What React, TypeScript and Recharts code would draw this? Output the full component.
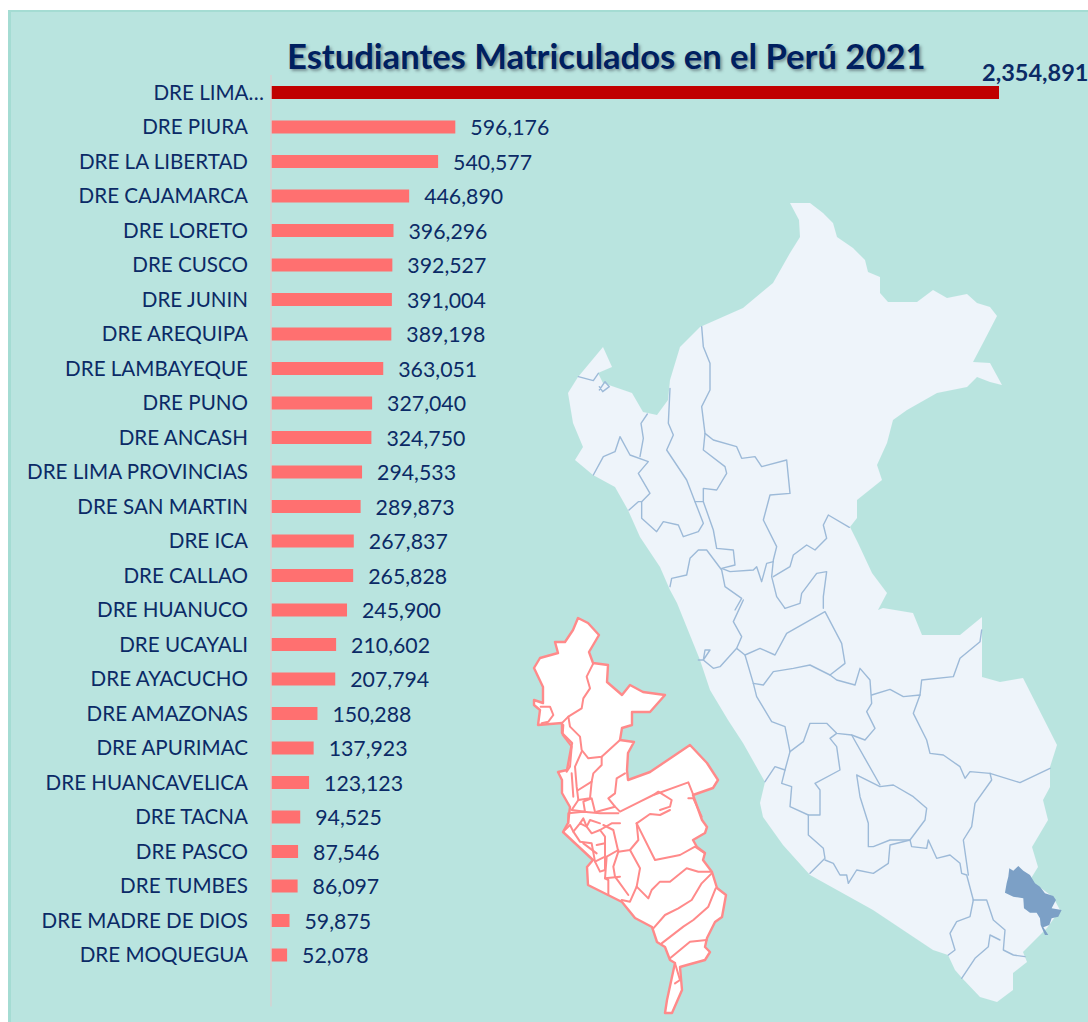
import React from 'react';
import { BarChart, Bar, XAxis, YAxis, Cell, LabelList } from 'recharts';

const categories = ['DRE LIMA…','DRE PIURA','DRE LA LIBERTAD','DRE CAJAMARCA','DRE LORETO','DRE CUSCO','DRE JUNIN','DRE AREQUIPA','DRE LAMBAYEQUE','DRE PUNO','DRE ANCASH','DRE LIMA PROVINCIAS','DRE SAN MARTIN','DRE ICA','DRE CALLAO','DRE HUANUCO','DRE UCAYALI','DRE AYACUCHO','DRE AMAZONAS','DRE APURIMAC','DRE HUANCAVELICA','DRE TACNA','DRE PASCO','DRE TUMBES','DRE MADRE DE DIOS','DRE MOQUEGUA',''];
const values: (number|null)[] = [2354891,596176,540577,446890,396296,392527,391004,389198,363051,327040,324750,294533,289873,267837,265828,245900,210602,207794,150288,137923,123123,94525,87546,86097,59875,52078,null];
const data = categories.map((name, i) => ({ name, value: values[i] }));

const NAVY = '#0b2a66';
const FONT = 'Lato, Carlito, sans-serif';

// decorative map outlines (page pixels)
const peruOutline = '790,203 810,203 823,213 833,223 837,237 853,248 865,260 868,272 880,277 880,293 888,302 917,302 933,290 947,298 967,294 977,303 990,307 997,316 983,343 973,362 990,363 1002,385 990,382 977,377 967,387 937,393 907,410 893,420 887,443 877,465 882,480 857,500 857,518 850,527 858,543 872,573 887,593 878,610 883,608 913,613 922,635 960,635 982,617 982,677 1000,682 1023,678 1057,745 1050,767 1050,787 1043,800 1048,820 1032,847 1038,867 1030,880 1053,897 1060,910 1047,928 1023,952 1027,962 1013,973 1013,990 997,1002 980,997 962,978 955,970 948,955 933,950 873,910 837,890 810,875 783,845 763,817 760,803 765,782 743,743 728,720 710,690 700,660 677,603 670,590 660,567 640,537 628,510 615,487 593,475 575,460 583,447 573,423 568,393 578,377 603,347 612,367 598,373 603,383 632,393 643,412 657,415 668,400 670,380 680,347 700,327 743,308 773,283 790,253 800,237 799,220';
const peruNorth = ['425,410 430,470 450,520 450,600 425,650 435,730 460,750 530,770 545,805 585,800 605,830 680,810 690,910 630,915 610,990 650,1070 640,1110 635,1160 650,1220 675,1255','435,730 430,780 495,830 500,850 470,900 430,895 430,935 460,1020 470,1075 520,1080 525,1125 485,1135 510,1145 580,1140 590,1130 605,1175 620,1120 640,1115','330,595 325,700 340,735 320,780 380,870 405,935 430,1000 415,1025 370,1040 355,1005 310,995 290,1025 245,985 245,935 270,910 235,850 265,815 210,795 180,740 165,785 130,800 100,855','262,672 243,700 250,745 240,800','405,935 430,935','207,960 235,935 245,935','330,1190 335,1165 380,1155 390,1105 415,1080 440,1080 485,1140 495,1190 545,1225 525,1260','640,1160 690,1130 700,1095 740,1065 765,1080 800,1045 790,1005 805,975 868,1012','675,1255 720,1240 725,1210 770,1150 800,1145 790,1220 790,1255','55,560 100,572 115,550','118,600 135,575 148,590 128,605 118,590'];
const peruSouth = ['250,0 220,65 245,110 230,145 180,200 160,205 130,180 135,150 150,150 130,180 115,180','230,145 255,165 300,145 345,165 380,100 495,35 545,130 555,190 510,225','255,165 280,250 290,290 335,365 375,380 390,455 375,510 345,500 315,545','280,250 310,255 340,215 400,205 450,195 510,225 530,240 585,255 600,205 630,240 635,310 620,335 645,385 615,420 575,405 530,400 500,370 450,370 430,425 390,455','635,285 690,268 730,290 780,285 760,340 800,420 810,460 850,465 900,500 915,535 930,515 990,520 1080,548 1170,505','780,285 785,240 880,230 900,175 960,125 965,90','375,510 365,550 395,560 390,620 445,645 480,645 480,570 465,550 540,510 530,440 510,415 530,400','445,645 445,705 490,745 495,775 450,820','495,780 520,790 540,825 560,825 565,850 590,810 640,820 685,790 690,735 750,720','575,405 660,555','590,525 600,590 625,670 625,740 640,740 690,720 750,720 795,660 800,625 760,590 700,555 660,560 600,530 590,525','750,720 755,740 800,745 805,720 830,775 870,765 900,790 905,820 920,825 940,900','990,520 995,540 945,610 935,680 910,720 925,825','940,900 930,950 890,965 870,1000 885,1050 865,1065','940,900 980,900 1000,960 1035,990 1030,1050 1060,1065 1095,1070','905,1135 945,1075 985,1040 990,1005 1020,1020'];
const madreBlob = '1048,805 1060,812 1075,798 1090,812 1110,825 1125,850 1140,860 1155,880 1180,888 1188,900 1175,925 1205,930 1195,950 1175,955 1168,975 1150,982 1165,1005 1155,1005 1142,975 1140,955 1130,938 1110,938 1092,925 1090,895 1060,890 1035,878 1040,850 1045,830';
const limaOutline = '578,618 588,623 599,635 589,652 593,663 608,665 607,682 622,695 630,685 643,692 665,695 650,712 632,712 632,725 622,728 620,740 634,742 628,753 627,770 628,780 650,772 690,745 707,763 718,780 713,788 693,795 702,820 707,827 705,833 693,840 697,847 705,853 703,860 712,872 717,888 726,895 722,917 715,922 707,938 705,947 710,952 705,960 687,965 680,967 682,990 672,1013 665,1013 667,1000 675,963 670,960 665,947 657,942 652,927 635,918 622,902 588,885 587,867 593,860 563,832 568,823 570,807 562,793 562,780 558,772 567,770 572,743 562,733 562,723 538,725 540,710 534,705 534,700 543,703 543,687 534,668 540,658 558,653 555,642 565,642 573,630';
const limaNorth = ['62,290 90,290 100,315 85,335 65,340','125,340 145,320 185,295 190,265 210,235 200,200 215,170 220,160','145,320 150,350 180,380 185,420 205,445 245,440 300,390','130,345 128,375 155,410 150,470 140,485','185,425 165,470 170,530 175,570','245,440 245,465 220,490 215,515 175,540','155,490 160,560','215,515 210,565 175,570 155,600 195,605 190,575 215,565 225,605','315,490 290,505 285,550 265,565 285,590 230,605','285,590 300,605 360,575 400,555 505,517 520,555','400,555 415,545 455,570 450,590 420,600','505,565 520,565 545,620'];
const limaSouth = ['40,65 60,45 70,65 90,40 110,50 125,70 150,60 165,80 165,100 140,105','55,40 55,10 100,5 150,10 205,10','90,40 100,25 110,50 120,30 150,40','70,65 90,95 125,100 135,155','100,100 140,130','165,100 165,140 135,155 150,185 165,180 165,140','150,60 185,40 210,40','260,40 315,150 390,135 435,110 465,130','260,40 265,90 240,120 205,125 190,60 160,45','260,40 300,12 330,15 360,0','240,120 270,175 260,230 240,275 215,270','205,125 190,170 195,200 235,255','205,120 170,140 165,205 175,210 175,255','165,205 210,200','260,230 295,265 305,240 330,215 360,215 410,175 445,185 485,185','485,190 455,220 425,270 385,295 345,315 310,355','497,235 475,290 430,330 400,350 335,400','470,390 420,395 360,445','375,460 390,510 375,520'];

const Lines = ({ items, dx, dy, stroke, w }: any) => (
  <g transform={`translate(${dx} ${dy}) scale(${1 / 3})`}>
    {items.map((p: string, i: number) => <polyline key={i} points={p} fill="none" stroke={stroke} strokeWidth={w * 3} strokeLinejoin="round" strokeLinecap="round" />)}
  </g>
);

const CatTick = ({ y, payload, index }: any) => (
  <text x={index === 0 ? 256 : 240} y={y + 7.5} textAnchor="end" fontFamily={FONT} fontSize={20.6} fill={NAVY}>{payload.value}</text>
);

const ValueLabel = ({ x, y, width, height, value, index }: any) => {
  if (value == null) return null;
  const first = index === 0;
  const end = x + width;
  return (
    <text x={first ? end - 17 : end + 15} y={first ? y - 5 : y + height / 2 + 8} fontFamily={FONT} fontSize={first ? 23.5 : 21.3} fontWeight={first ? 700 : 400} fill={NAVY}>
      {Number(value).toLocaleString('en-US')}
    </text>
  );
};

export default function App() {
  return (
    <div style={{ position: 'absolute', left: 8, top: 10, width: 1080, height: 1012, overflow: 'hidden', background: '#b9e4df', boxSizing: 'border-box', borderLeft: '3px solid #a4dcd3', borderTop: '2px solid #a4dcd3' }}>
      <svg width={1088} height={1022} viewBox="0 0 1088 1022" style={{ position: 'absolute', left: -11, top: -12 }}>
        <defs>
          <filter id="soft" x="-5%" y="-5%" width="110%" height="110%"><feGaussianBlur stdDeviation="0.5" /></filter>
        </defs>
        <g filter="url(#soft)">
          <polygon points={peruOutline} fill="#eef4fa" />
          <Lines items={peruNorth} dx={560} dy={190} stroke="#9dbad8" w={1.4} />
          <Lines items={peruSouth} dx={660} dy={600} stroke="#9dbad8" w={1.4} />
          <g transform="translate(660 600) scale(0.3333)"><polygon points={madreBlob} fill="#7ba0c6" /></g>
        </g>
        <polygon points={limaOutline} fill="#ffffff" stroke="#ff8a8a" strokeWidth={2.4} strokeLinejoin="round" />
        <Lines items={limaNorth} dx={520} dy={610} stroke="#ff8a8a" w={2} />
        <Lines items={limaSouth} dx={550} dy={810} stroke="#ff8a8a" w={2} />
      </svg>
      <div style={{ position: 'absolute', left: 276, top: 22, fontFamily: FONT, fontWeight: 700, fontSize: 34.6, lineHeight: '44px', color: '#002060', whiteSpace: 'nowrap', textShadow: '2px 2px 3px rgba(70,80,90,0.55)' }}>
        Estudiantes Matriculados en el Perú 2021
      </div>
      <div style={{ position: 'absolute', left: -3, top: -2 }}>
        <BarChart width={1080} height={1012} data={data} layout="vertical" margin={{ top: 65, right: 89, bottom: 15.5, left: 0 }} barCategoryGap={0} style={{ overflow: 'visible' }}>
          <XAxis type="number" hide domain={[0, 2354891]} />
          <YAxis type="category" dataKey="name" width={263} interval={0} tickLine={false} axisLine={{ stroke: '#d6d2d2', strokeWidth: 1.5 }} tick={<CatTick />} />
          <Bar dataKey="value" barSize={13} isAnimationActive={false}>
            {data.map((d, i) => <Cell key={i} fill={i === 0 ? '#c00000' : '#ff7070'} />)}
            <LabelList dataKey="value" content={<ValueLabel />} />
          </Bar>
        </BarChart>
      </div>
    </div>
  );
}
